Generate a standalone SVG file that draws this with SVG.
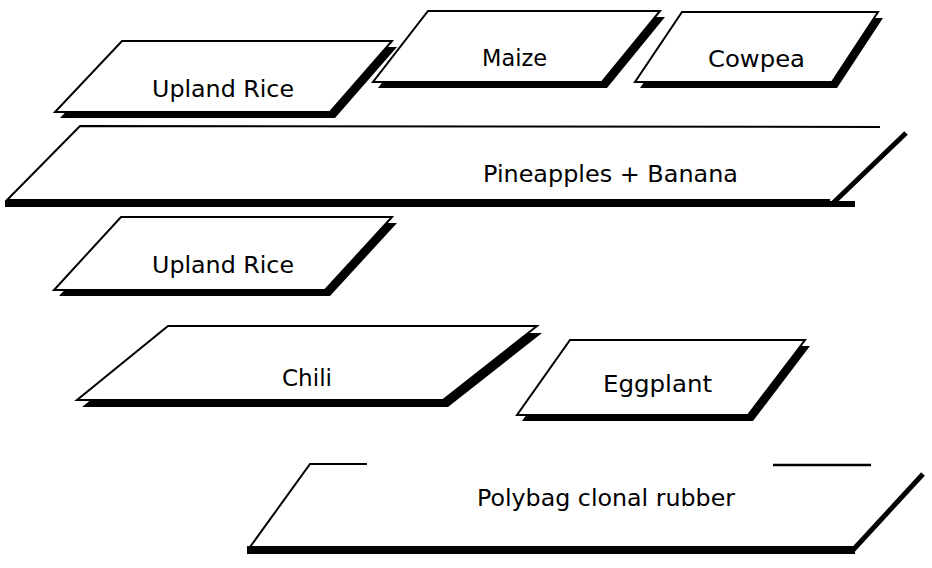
<svg xmlns="http://www.w3.org/2000/svg" width="932" height="568" viewBox="0 0 932 568">
<style>
.shadow{fill:#000;stroke:none}
.card{fill:#fff;stroke:#000;stroke-width:2;stroke-linejoin:miter}
.thin{fill:none;stroke:#000;stroke-width:2}
.thick{fill:none;stroke:#000;stroke-width:5}
.bar{fill:#000}
.lbl{font-family:"DejaVu Sans","Verdana",sans-serif;font-size:23px;fill:#000}
</style>
<rect width="932" height="568" fill="#fff"/>
<g id="maize">
<polygon class="shadow" points="433,17 665,17 607,88 378,88"/>
<polygon class="card" points="428,11 660,11 602,82 373,82"/>
<text class="lbl" x="482" y="66" textLength="65" lengthAdjust="spacingAndGlyphs">Maize</text>
</g>
<g id="upland-rice-1">
<polygon class="shadow" points="127,47 397,47 335,118 60,118"/>
<polygon class="card" points="122,41 392,41 330,112 55,112"/>
<text class="lbl" x="152" y="97" textLength="142" lengthAdjust="spacingAndGlyphs">Upland Rice</text>
</g>
<g id="cowpea">
<polygon class="shadow" points="687,18 883,18 837,88 640,88"/>
<polygon class="card" points="682,12 878,12 832,82 635,82"/>
<text class="lbl" x="708" y="67" textLength="97" lengthAdjust="spacingAndGlyphs">Cowpea</text>
</g>
<g id="pineapples-banana">
<polyline class="thin" points="880,127 80,126 7,200 830,200"/>
<rect class="bar" x="5" y="201" width="850" height="6"/>
<line class="thick" x1="906" y1="133" x2="831" y2="205"/>
<text class="lbl" x="483" y="182" textLength="255" lengthAdjust="spacingAndGlyphs">Pineapples + Banana</text>
</g>
<g id="upland-rice-2">
<polygon class="shadow" points="126,223 397,223 330,296 59,296"/>
<polygon class="card" points="121,217 392,217 325,290 54,290"/>
<text class="lbl" x="152" y="273" textLength="142" lengthAdjust="spacingAndGlyphs">Upland Rice</text>
</g>
<g id="chili">
<polygon class="shadow" points="173,333 542,333 448,407 82,407"/>
<polygon class="card" points="168,326 537,326 443,400 77,400"/>
<text class="lbl" x="282" y="386" textLength="50" lengthAdjust="spacingAndGlyphs">Chili</text>
</g>
<g id="eggplant">
<polygon class="shadow" points="575,346 810,346 753,421 522,421"/>
<polygon class="card" points="570,340 805,340 748,415 517,415"/>
<text class="lbl" x="603" y="392" textLength="109" lengthAdjust="spacingAndGlyphs">Eggplant</text>
</g>
<g id="polybag-clonal-rubber">
<polyline class="thin" points="367,464 310,464 250,547"/>
<line class="thin" x1="773" y1="465" x2="871" y2="465" style="stroke-width:2.5"/>
<line class="thick" x1="923" y1="474" x2="853" y2="550"/>
<rect class="bar" x="247" y="546" width="608" height="8"/>
<text class="lbl" x="477" y="506" textLength="258" lengthAdjust="spacingAndGlyphs">Polybag clonal rubber</text>
</g>
<g id="connectors"/>
</svg>
